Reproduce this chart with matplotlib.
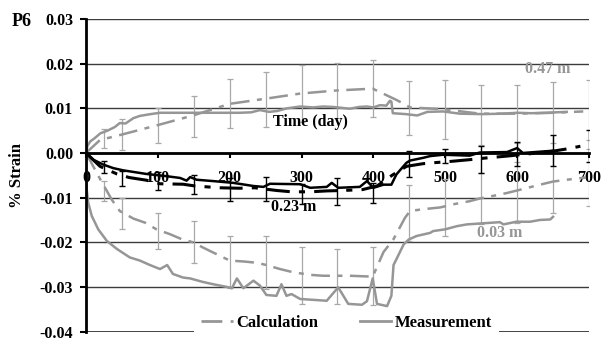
import numpy as np
import matplotlib
matplotlib.use("Agg")
import matplotlib.pyplot as plt
from matplotlib.lines import Line2D

plt.rcParams['font.family'] = ['Liberation Serif', 'DejaVu Serif']
plt.rcParams['font.weight'] = 'bold'

GREY = '#969696'
BAR_GREY = '#a8a8a8'

######## DATA

# 0.47 m - measurement / calculation
d47_meas = [0, 2, 6, 12, 20, 30, 40, 47, 55, 66, 75, 90, 103, 150, 214, 230, 242, 255, 266, 280,
            298, 316, 330, 344, 356, 367, 380, 391, 400, 409, 418, 423, 425, 427, 445, 461, 475, 497,
            520, 552, 580, 600, 620, 640, 669]
v47_meas = [0, 0.0016, 0.0026, 0.0033, 0.0044, 0.0050, 0.0058, 0.0067, 0.0066, 0.0078, 0.0083, 0.0087,
            0.009, 0.009, 0.009, 0.0091, 0.0096, 0.0092, 0.0094, 0.0100, 0.0104, 0.0102, 0.0104, 0.0103,
            0.0101, 0.0099, 0.0103, 0.0104, 0.0102, 0.0107, 0.0106, 0.0117, 0.0115, 0.0089, 0.0087,
            0.0084, 0.0092, 0.0093, 0.0088, 0.0087, 0.0088, 0.009, 0.0089, 0.0090, 0.0092]
d47_calc = [0, 19.5, 47, 99, 149, 200, 252, 298, 349, 399, 433, 451, 497, 548, 600, 650, 692]
v47_calc = [0, 0.0029, 0.004, 0.0062, 0.0084, 0.011, 0.0122, 0.0133, 0.014, 0.0144, 0.0118, 0.0102,
            0.0098, 0.0088, 0.0088, 0.009, 0.0093]

# 0.23 m
d23_meas = [0, 10, 24, 38, 52, 84, 112, 131, 140, 145, 154, 177, 205, 233, 247, 256, 298, 312, 335,
            342, 351, 381, 391, 400, 414, 425, 432, 446, 451, 469, 479, 497, 534, 548, 586, 600, 608, 650]
v23_meas = [0, -0.0015, -0.0026, -0.0034, -0.0039, -0.0047, -0.0052, -0.0056, -0.0062, -0.0054, -0.006,
            -0.0063, -0.0067, -0.0074, -0.0076, -0.0069, -0.007, -0.0078, -0.0076, -0.0067, -0.0078,
            -0.0076, -0.0063, -0.0078, -0.0071, -0.0071, -0.0048, -0.0022, -0.0017, -0.0011, -0.0007,
            -0.0004, -0.0006, 0.0001, 0.0002, 0.0011, 0.0, 0.0005]
d23_calc = [0, 19.5, 43, 60, 84, 103, 135, 152, 186, 214, 235, 265, 286, 312, 335, 358, 385, 405, 426,
            446, 469, 483, 507, 534, 558, 586, 622, 650, 669, 688]
v23_calc = [0, -0.003, -0.0047, -0.0055, -0.0061, -0.0069, -0.007, -0.0074, -0.0078, -0.0079, -0.0078,
            -0.0084, -0.0087, -0.0087, -0.0085, -0.0084, -0.0082, -0.0074, -0.005, -0.003, -0.0024,
            -0.0022, -0.0019, -0.0015, -0.0011, -0.0007, -0.0001, 0.0004, 0.0009, 0.0015]

# 0.03 m
d03_meas = [0, 1, 3, 8, 17, 29, 43, 61, 75, 89, 103, 113, 121, 135, 145, 163, 177, 196, 203, 210,
            219, 233, 242, 251, 265, 272, 279, 286, 298, 335, 351, 365, 384, 391, 399, 405, 419, 425,
            428, 432, 442, 449, 460, 479, 483, 500, 516, 530, 548, 576, 581, 599, 618, 632, 646, 650]
v03_meas = [0, -0.0082, -0.0111, -0.0141, -0.0171, -0.0197, -0.0215, -0.0234, -0.0241, -0.0251,
            -0.026, -0.0251, -0.0271, -0.0279, -0.0281, -0.0289, -0.0294, -0.03, -0.0303, -0.0281,
            -0.0303, -0.0286, -0.0297, -0.0318, -0.032, -0.0294, -0.032, -0.0316, -0.0327, -0.0331,
            -0.0301, -0.0338, -0.034, -0.0332, -0.0281, -0.0338, -0.0343, -0.032, -0.0251, -0.0238,
            -0.0205, -0.0194, -0.0186, -0.0179, -0.0175, -0.0171, -0.0164, -0.016, -0.0158, -0.0155,
            -0.016, -0.0154, -0.0154, -0.015, -0.0149, -0.0143]
d03_calc = [0, 19.5, 36, 47, 66, 82, 98, 117, 133, 149, 163, 186, 200, 219, 238, 251, 270, 288, 312,
            330, 367, 399, 414, 428, 444, 451, 469, 493, 511, 534, 548, 567, 585, 600, 632, 650, 669, 696]
v03_calc = [0, -0.0058, -0.0105, -0.013, -0.0147, -0.0156, -0.0171, -0.0182, -0.0193, -0.02, -0.0212,
            -0.023, -0.0241, -0.0243, -0.0246, -0.0251, -0.026, -0.0267, -0.0273, -0.0275, -0.0275,
            -0.0277, -0.0222, -0.0193, -0.0145, -0.013, -0.0126, -0.0122, -0.0115, -0.0108, -0.0102,
            -0.0096, -0.009, -0.0084, -0.0071, -0.0064, -0.006, -0.0055]

# error bars (centre, half length)
err_days = [25, 50, 100, 150, 200, 250, 300, 350, 400, 450, 500, 550, 600, 650, 700]
e47_mid = [0.0032, 0.0041, 0.0062, 0.0082, 0.011, 0.012, 0.0133, 0.014, 0.0145, 0.0101, 0.0098,
           0.0085, 0.0088, 0.009, 0.0097]
e47_half = [0.0021, 0.0034, 0.0039, 0.0046, 0.0055, 0.0062, 0.0063, 0.0061, 0.0064, 0.0061, 0.0066,
            0.0067, 0.0065, 0.0068, 0.0067]
e23_mid = [-0.0031, -0.0057, -0.0063, -0.0071, -0.0082, -0.008, -0.0092, -0.0087, -0.009, -0.0025,
           -0.0007, -0.0015, -0.0003, 0.0005, 0.0015]
e23_half = [0.0014, 0.0017, 0.0021, 0.0022, 0.0025, 0.0027, 0.0023, 0.003, 0.0023, 0.0029, 0.0015,
            0.003, 0.0027, 0.0035, 0.0036]
e03_mid = [-0.0085, -0.0136, -0.0174, -0.0199, -0.0244, -0.0245, -0.0274, -0.0276, -0.0275, -0.0134,
           -0.0122, -0.0102, -0.0088, -0.0066, -0.0055]
e03_half = [0.0022, 0.0035, 0.004, 0.0047, 0.0058, 0.006, 0.0064, 0.0062, 0.0065, 0.0063, 0.0064,
            0.0058, 0.0068, 0.0068, 0.0064]

x_ticks = [0, 100, 200, 300, 400, 500, 600, 700]
y_ticks = [-0.04, -0.03, -0.02, -0.01, 0.0, 0.01, 0.02, 0.03]
y_ticklabels = ['-0.04', '-0.03', '-0.02', '-0.01', '0.00', '0.01', '0.02', '0.03']

######## PLOT

fig = plt.figure(figsize=(6.01, 3.40), dpi=100)
ax = fig.add_axes([0.1431, 0.0235, 0.8369, 0.9206])

DASH = (0, (7.5, 3, 2, 3))

# error bars
ax.errorbar(err_days, e47_mid, yerr=e47_half, fmt='none', ecolor=BAR_GREY, elinewidth=0.9, capsize=2.5, capthick=0.9, zorder=1)
ax.errorbar(err_days, e03_mid, yerr=e03_half, fmt='none', ecolor=BAR_GREY, elinewidth=0.9, capsize=2.5, capthick=0.9, zorder=1)
ax.errorbar(err_days, e23_mid, yerr=e23_half, fmt='none', ecolor='black', elinewidth=1.0, capsize=2.5, capthick=1.0, zorder=3)

# grey series
ax.plot(d47_meas, v47_meas, color=GREY, lw=1.8, zorder=2)
ax.plot(d47_calc, v47_calc, color=GREY, lw=1.8, linestyle=DASH, zorder=2)
ax.plot(d03_meas, v03_meas, color=GREY, lw=1.8, zorder=2)
ax.plot(d03_calc, v03_calc, color=GREY, lw=1.8, linestyle=DASH, zorder=2)

# black series
ax.plot(d23_meas, v23_meas, color='black', lw=1.8, zorder=4)
ax.plot(d23_calc, v23_calc, color='black', lw=2.2, linestyle=DASH, zorder=4)

ax.set_xlim(0, 700)
ax.set_ylim(-0.0401, 0.03)
ax.set_xticks(x_ticks)
ax.set_yticks(y_ticks)
ax.set_yticklabels(y_ticklabels)

ax.spines['top'].set_visible(False)
ax.spines['right'].set_visible(False)
ax.spines['bottom'].set_position(('data', 0))
ax.spines['bottom'].set_linewidth(2)
ax.spines['left'].set_linewidth(2)
ax.spines['bottom'].set_zorder(3)

ax.yaxis.grid(True, color='#3c3c3c', lw=1.0)
ax.set_axisbelow(True)
ax.axhline(y_ticks[0], color='#2a2a2a', lw=1.2, zorder=1.5)

ax.tick_params(axis='y', length=4.3, width=1.5, pad=5, labelsize=11.5)
ax.tick_params(axis='x', length=3.6, width=1.5, pad=9, labelsize=11.5)
for lab in ax.get_xticklabels() + ax.get_yticklabels():
    lab.set_fontweight('bold')

ax.set_ylabel('% Strain', fontsize=12, fontweight='bold')
ax.yaxis.set_label_coords(-0.121, 0.5)

# labels in plot
ax.text(312, 0.007, 'Time (day)', fontsize=11.5, fontweight='bold', ha='center', va='center', zorder=5)
ax.text(642, 0.0187, '0.47 m', fontsize=11.5, fontweight='bold', color=GREY, ha='center', va='center')
ax.text(289, -0.0122, '0.23 m', fontsize=11.5, fontweight='bold', color='black', ha='center', va='center')
ax.text(576, -0.0179, '0.03 m', fontsize=11.5, fontweight='bold', color=GREY, ha='center', va='center')

fig.text(0.0366, 0.938, 'P6', fontsize=13, fontweight='bold', ha='center', va='center')

handles = [Line2D([], [], color=GREY, lw=2, linestyle=DASH),
           Line2D([], [], color=GREY, lw=2)]
leg = ax.legend(handles, ['Calculation', 'Measurement'], ncol=2, loc='center',
                bbox_to_anchor=(0.518, 0.028), frameon=True, fancybox=False,
                facecolor='white', edgecolor='none', framealpha=1,
                prop={'size': 12, 'weight': 'bold'}, handlelength=1.9,
                handletextpad=0.2, columnspacing=2.5, borderpad=0.4)
leg.set_zorder(6)

fig.savefig('out.png', dpi=100)
